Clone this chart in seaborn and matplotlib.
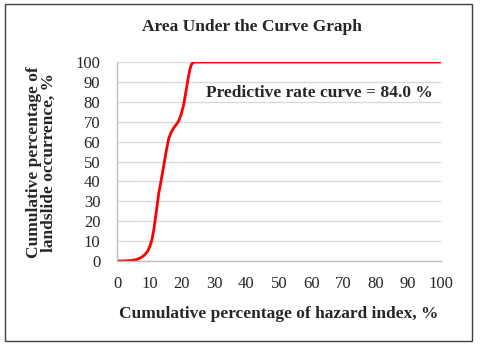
import matplotlib
matplotlib.use("Agg")
import matplotlib.pyplot as plt
import seaborn as sns
import pandas as pd
from matplotlib.patches import Rectangle

# points
hazard_index = [0, 2, 4, 5.5, 6.5, 7.5, 8.5, 9.5, 10.3, 10.9, 11.4, 12.0, 12.9, 13.7,
                14.4, 15.2, 16.0, 16.8, 17.5, 18.3, 19.1, 19.8, 20.6, 21.3, 21.9,
                22.5, 23.0, 23.6, 24.2, 30, 50, 70, 90, 100]
landslide_occ = [0, 0, 0.2, 0.5, 1.0, 1.8, 3.0, 5.0, 8.0, 11.5, 16.0, 23.0, 34.0, 41.0,
                 47.5, 55.0, 61.7, 64.8, 66.8, 68.5, 70.5, 73.5, 78.5, 85.0, 91.0,
                 96.0, 98.8, 99.8, 100, 100, 100, 100, 100, 100]

df = pd.DataFrame({"x": hazard_index, "y": landslide_occ})

sns.set_style("white")
plt.rcParams["font.family"] = ["Liberation Serif", "DejaVu Serif"]

fig = plt.figure(figsize=(4.8, 3.48), dpi=100)
ax = fig.add_axes([117 / 480, 1 - 261 / 348, (440.5 - 117) / 480, (261 - 62) / 348])

sns.lineplot(data=df, x="x", y="y", ax=ax, color="#ff0000", linewidth=2)

ax.set_xlim(0, 100)
ax.set_ylim(0, 100)
ax.set_xticks(range(0, 101, 10))
ax.set_yticks(range(0, 101, 10))
ax.yaxis.grid(True, color="#d9d9d9", linewidth=1)
ax.set_axisbelow(True)
for s in ["top", "right"]:
    ax.spines[s].set_visible(False)
for s in ["left", "bottom"]:
    ax.spines[s].set_color("#bfbfbf")
    ax.spines[s].set_linewidth(1)
ax.tick_params(axis="x", length=3, color="#bfbfbf", labelsize=12, pad=8, direction="out")
ax.tick_params(axis="y", length=3, color="#bfbfbf", labelsize=12, pad=9, direction="out")
ax.margins(0)

ax.set_xlabel("Cumulative percentage of hazard index, %", fontsize=12.5, fontweight="bold")
ax.set_ylabel("Cumulative percentage of\nlandslide occurrence, %", fontsize=12.5,
              fontweight="bold", linespacing=0.9)
ax.xaxis.set_label_coords(0.5, -0.226)
ax.yaxis.set_label_coords(-0.185, 0.495)

fig.text(252 / 480, 1 - 27 / 348, "Area Under the Curve Graph", ha="center", va="center",
         fontsize=12.5, fontweight="bold")
ax.text(27.5, 84.4, "Predictive rate curve = 84.0 %", ha="left", va="center",
        fontsize=12.5, fontweight="bold")

fig.patches.append(Rectangle((5 / 480, 1 - 341 / 348), 467 / 480, 337 / 348,
                             transform=fig.transFigure, fill=False,
                             edgecolor="#404040", linewidth=1))

fig.savefig("out.png", dpi=100)
